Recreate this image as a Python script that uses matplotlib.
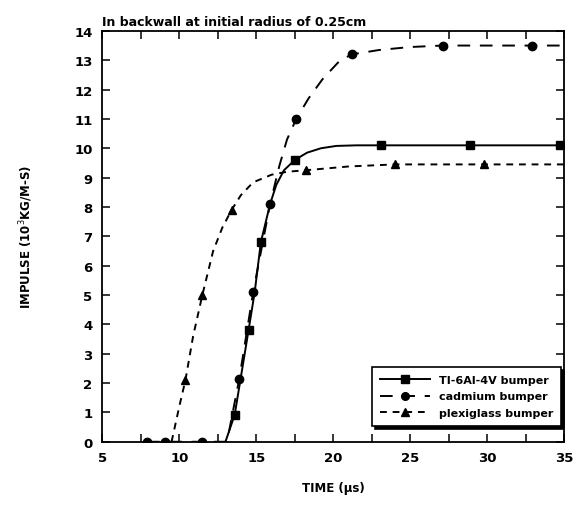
import matplotlib
matplotlib.use("Agg")
import matplotlib.pyplot as plt
from matplotlib.ticker import MultipleLocator

plt.rcParams['font.family'] = ['DejaVu Sans']

# Ti-6Al-4V bumper: line points and marker points
ti_line_x = [13.0, 13.6, 14.0, 14.5, 14.9, 15.3, 15.9, 16.3, 16.8, 17.5, 18.3, 19.2, 20.2, 21.5, 23.1, 28.9, 35.0]
ti_line_y = [0.0, 0.92, 2.2, 3.8, 5.1, 6.8, 8.1, 8.75, 9.25, 9.6, 9.85, 10.0, 10.08, 10.1, 10.1, 10.1, 10.1]
ti_mark_x = [13.6, 14.5, 15.3, 17.5, 23.1, 28.9, 34.7]
ti_mark_y = [0.92, 3.8, 6.8, 9.6, 10.1, 10.1, 10.1]

# cadmium bumper
cd_line_x = [7.9, 9.1, 11.5, 13.1, 13.9, 14.8, 15.9, 16.5, 17.0, 17.6, 18.4, 19.3, 20.4, 21.2, 23.0, 25.0, 27.1, 32.9, 35.0]
cd_line_y = [0.0, 0.0, 0.0, 0.0, 2.15, 5.1, 8.1, 9.4, 10.3, 11.0, 11.7, 12.35, 12.97, 13.2, 13.35, 13.45, 13.5, 13.5, 13.5]
cd_mark_x = [7.9, 9.1, 11.5, 13.9, 14.8, 15.9, 17.6, 21.2, 27.1, 32.9]
cd_mark_y = [0.0, 0.0, 0.0, 2.15, 5.1, 8.1, 11.0, 13.2, 13.5, 13.5]

# plexiglass bumper
px_line_x = [9.5, 10.0, 10.4, 10.9, 11.5, 12.2, 12.8, 13.4, 14.0, 14.8, 16.0, 17.0, 18.2, 21.0, 24.0, 29.8, 35.0]
px_line_y = [0.0, 1.2, 2.1, 3.6, 5.0, 6.5, 7.3, 7.9, 8.4, 8.84, 9.1, 9.2, 9.25, 9.38, 9.45, 9.45, 9.45]
px_mark_x = [10.4, 11.5, 13.4, 18.2, 24.0, 29.8]
px_mark_y = [2.1, 5.0, 7.9, 9.25, 9.45, 9.45]

labels = ["TI-6Al-4V bumper", "cadmium bumper", "plexiglass bumper"]
title = "In backwall at initial radius of 0.25cm"
xlabel = "TIME (\u03bcs)"
ylabel = "IMPULSE (10$^3$KG/M-S)"
xticks = [5, 10, 15, 20, 25, 30, 35]
yticks = list(range(0, 15))

fig = plt.figure(figsize=(5.78, 5.06), dpi=100)
ax = fig.add_axes([0.177, 0.125, 0.799, 0.812])

lw = 1.4
# Ti
ax.plot(ti_line_x, ti_line_y, color='black', lw=lw, ls='-')
ax.plot(ti_mark_x, ti_mark_y, ls='none', marker='s', ms=5.5, color='black')
# Cadmium
l2, = ax.plot(cd_line_x, cd_line_y, color='black', lw=lw)
l2.set_dashes([6.5, 5])
ax.plot(cd_mark_x, cd_mark_y, ls='none', marker='o', ms=6, color='black')
# Plexiglass
l3, = ax.plot(px_line_x, px_line_y, color='black', lw=lw)
l3.set_dashes([3.5, 3.0])
ax.plot(px_mark_x, px_mark_y, ls='none', marker='^', ms=5.5, color='black')

# legend handles
h1, = ax.plot([], [], color='black', lw=lw, marker='s', ms=5.5)
h2, = ax.plot([], [], color='black', lw=lw, marker='o', ms=5.5)
h2.set_dashes([6.5, 5])
h3, = ax.plot([], [], color='black', lw=lw, marker='^', ms=5.5)
h3.set_dashes([3.5, 3.0])
leg = ax.legend([h1, h2, h3], labels, loc='lower right', bbox_to_anchor=(1.005, 0.025),
                frameon=True, fancybox=False, edgecolor='black', framealpha=1,
                shadow={'color': 'black', 'alpha': 1}, handlelength=4.5,
                prop={'size': 8, 'weight': 'bold'}, borderpad=0.7, labelspacing=0.6)
leg.get_frame().set_linewidth(1.2)

ax.set_xlim(5, 35)
ax.set_ylim(0, 14)
ax.set_xticks(xticks)
ax.set_yticks(yticks)
ax.xaxis.set_minor_locator(MultipleLocator(2.5))
ax.tick_params(which='both', direction='in', top=True, right=True, length=6, width=1.1)
ax.tick_params(axis='both', labelsize=9.5, pad=7)
for t in ax.get_xticklabels() + ax.get_yticklabels():
    t.set_fontweight('bold')
for s in ax.spines.values():
    s.set_linewidth(1.3)

ax.set_xlabel(xlabel, fontsize=8.5, fontweight='bold', labelpad=12)
ax.set_ylabel(ylabel, fontsize=8.5, fontweight='bold', labelpad=28)
ax.set_title(title, fontsize=9, fontweight='bold', loc='left', pad=4)

fig.savefig('out.png', dpi=100)
